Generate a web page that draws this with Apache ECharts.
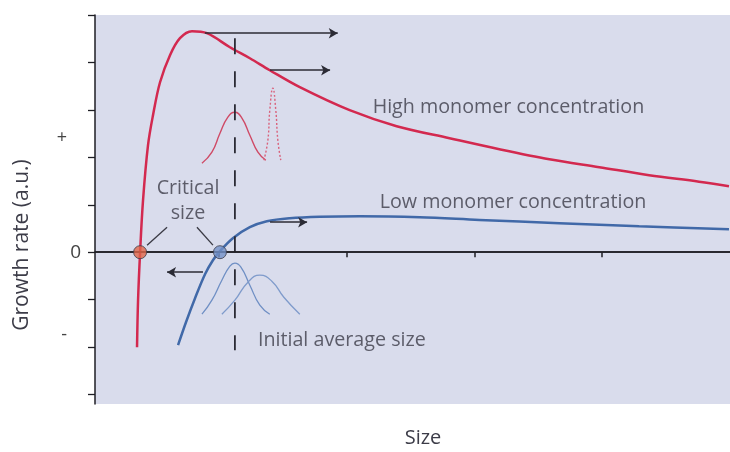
<!DOCTYPE html>
<html>
<head>
<meta charset="utf-8">
<style>
  html, body { margin: 0; padding: 0; background: #fff; }
  #chart { width: 730px; height: 452px; }
</style>
<script src="https://cdn.jsdelivr.net/npm/echarts@6.0.0/dist/echarts.min.js"></script>
</head>
<body>
<div id="chart"></div>
<script>
// units: x = size (one tick apart = 1), y = growth rate (one tick apart = 1)
const highCurve = [
  [0.359, -2.003], [0.367, -1.012], [0.383, 0], [0.406, 1.096], [0.445, 2.256],
  [0.484, 2.888], [0.539, 3.583], [0.617, 4.153], [0.695, 4.511], [0.789, 4.659],
  [0.906, 4.616], [1.086, 4.321], [1.242, 4.089], [1.398, 3.836], [1.633, 3.478],
  [2.023, 2.993], [2.391, 2.656], [2.805, 2.403], [3.195, 2.171], [3.586, 1.960],
  [3.977, 1.792], [4.367, 1.623], [4.758, 1.486], [4.992, 1.391]
];
const lowCurve = [
  [0.680, -1.960], [0.742, -1.476], [0.813, -0.970], [0.891, -0.464], [0.953, -0.169],
  [1.008, 0.021], [1.109, 0.295], [1.242, 0.527], [1.375, 0.653], [1.555, 0.717],
  [1.789, 0.748], [2.102, 0.759], [2.570, 0.738], [3.039, 0.680], [3.664, 0.611],
  [4.289, 0.548], [4.992, 0.485]
];
// size distributions sketched on the plot
const highDist = [
  [0.867, 1.876], [0.945, 2.108], [1.008, 2.508], [1.070, 2.846], [1.125, 2.951],
  [1.180, 2.825], [1.242, 2.466], [1.305, 2.108], [1.367, 1.939]
];
const highDistNarrow = [
  [1.352, 1.939], [1.383, 2.361], [1.398, 2.993], [1.422, 3.457], [1.445, 2.993],
  [1.461, 2.361], [1.484, 1.939]
];
const lowDistA = [
  [0.867, -1.307], [0.945, -1.012], [1.023, -0.590], [1.086, -0.295], [1.125, -0.232],
  [1.172, -0.316], [1.242, -0.696], [1.320, -1.117], [1.398, -1.307]
];
const lowDistB = [
  [1.023, -1.307], [1.125, -1.012], [1.227, -0.632], [1.320, -0.485], [1.414, -0.611],
  [1.508, -0.949], [1.633, -1.307]
];
const criticalSizes = [[0.383, 0], [1.008, 0]];
const criticalColors = ['#e0674a', '#7391c8'];
// [x1, y1, x2, y2]
const arrows = [
  [0.89, 4.616, 1.93, 4.616],
  [1.40, 3.836, 1.87, 3.836],
  [1.40, 0.632, 1.69, 0.632],
  [0.875, -0.422, 0.594, -0.422]
];
const avgSizeLine = [[1.125, 4.51], [1.125, -2.066]];
const leaders = [
  [[0.4375, 0.148], [0.594, 0.527]],
  [[0.828, 0.527], [0.953, 0.148]]
];
// [x, y, text, align]
const notes = [
  [2.203, 3.057, 'High monomer concentration', 'left'],
  [2.258, 1.054, 'Low monomer concentration', 'left'],
  [1.305, -1.855, 'Initial average size', 'left'],
  [0.758, 1.349, 'Critical', 'center'],
  [0.758, 0.822, 'size', 'center']
];
const xTicks = [1, 2, 3, 4];
const yTicks = [-3, -2, -1, 0, 1, 2, 3, 4, 5];
const yLabelValues = [-1.75, 0, 2.42];
const yLabelText = { '-1.75': '-', '0': '0', '2.42': '+' };

const RED = '#d3294f';
const BLUE = '#4169a8';
const INK = '#2b2b35';
const TEXT = '#3c3c48';
const FONT = 'Open Sans';

function curve(data, color, width, type, smooth) {
  return {
    type: 'line', data: data, smooth: smooth, showSymbol: false, silent: true,
    lineStyle: { color: color, width: width, type: type || 'solid' }, z: 3
  };
}

const chart = echarts.init(document.getElementById('chart'), null, { renderer: 'canvas' });

const series = [
  curve(highCurve, RED, 2.5, 'solid', 0.35),
  curve(lowCurve, BLUE, 2.5, 'solid', 0.35),
  curve(highDist, '#cf4a66', 1.4, 'solid', 0.5),
  curve(highDistNarrow, '#d9627c', 1.4, [2, 2], 0.5),
  curve(lowDistA, '#6f8fc4', 1.3, 'solid', 0.5),
  curve(lowDistB, '#7f9bcb', 1.3, 'solid', 0.5),
  curve(avgSizeLine, INK, 1.8, [16, 17], false)
];
leaders.forEach(function (seg) { series.push(curve(seg, '#3a3a44', 1.3, 'solid', false)); });

// zero line and arrows
series.push({
  type: 'line', data: [], silent: true,
  markLine: {
    silent: true, symbol: 'none', animation: false,
    lineStyle: { color: '#1e1e24', width: 1.5, type: 'solid' },
    label: { show: false },
    data: [{ yAxis: 0 }]
  }
});
series.push({
  type: 'line', data: [], silent: true,
  markLine: {
    silent: true, symbol: ['none', 'arrow'], symbolSize: [8, 9], animation: false,
    lineStyle: { color: INK, width: 1.5, type: 'solid' },
    label: { show: false },
    data: arrows.map(function (a) { return [{ coord: [a[0], a[1]] }, { coord: [a[2], a[3]] }]; })
  }
});
// critical size markers
series.push({
  type: 'scatter', silent: true, z: 5, symbolSize: 13,
  data: criticalSizes.map(function (p, i) {
    return { value: p, itemStyle: { color: criticalColors[i], borderColor: '#3c3c4a', borderWidth: 1 } };
  })
});
// text notes
series.push({
  type: 'scatter', silent: true, z: 6, symbolSize: 0,
  data: notes.map(function (n) {
    return {
      value: [n[0], n[1]], name: n[2],
      label: {
        show: true, formatter: n[2],
        position: n[3] === 'left' ? 'right' : 'inside', distance: 0,
        align: n[3], verticalAlign: 'middle',
        color: TEXT, fontSize: 19.7, fontFamily: FONT
      }
    };
  })
});

chart.setOption({
  animation: false,
  backgroundColor: '#ffffff',
  grid: {
    left: 95, right: 0, top: 15, bottom: 48,
    show: true, backgroundColor: '#d9dcec', borderWidth: 0,
    outerBoundsMode: 'none'
  },
  xAxis: {
    type: 'value', min: 0.03, max: 5,
    name: 'Size', nameLocation: 'middle', nameGap: 24,
    nameTextStyle: { color: TEXT, fontSize: 20, fontFamily: FONT, padding: [0, 0, 0, 21] },
    axisLine: { show: true, lineStyle: { color: '#1e1e24', width: 1.5 } },
    axisTick: { show: true, inside: false, length: 5, customValues: xTicks, lineStyle: { color: '#1e1e24', width: 1.5 } },
    axisLabel: { show: false },
    splitLine: { show: false }
  },
  yAxis: {
    type: 'value', min: -3.2, max: 5,
    name: 'Growth rate (a.u.)', nameLocation: 'middle', nameGap: 62, nameRotate: 90,
    nameTextStyle: { color: TEXT, fontSize: 21, fontFamily: FONT, padding: [0, 71, 0, 0] },
    axisLine: { show: true, lineStyle: { color: '#1e1e24', width: 1.5 } },
    axisTick: { show: true, inside: false, length: 7, customValues: yTicks, lineStyle: { color: '#1e1e24', width: 1.3 } },
    axisLabel: {
      show: true, customValues: yLabelValues, margin: 14,
      formatter: function (v) {
        const t = yLabelText[String(v)] || '';
        return t === '0' ? '{z|0}' : '{s|' + t + '}';
      },
      rich: {
        z: { color: '#444', fontSize: 19, fontFamily: FONT },
        s: { color: '#444', fontSize: 18, fontFamily: FONT, padding: [0, 14, 0, 0] }
      }
    },
    splitLine: { show: false }
  },
  series: series
});
</script>
</body>
</html>
